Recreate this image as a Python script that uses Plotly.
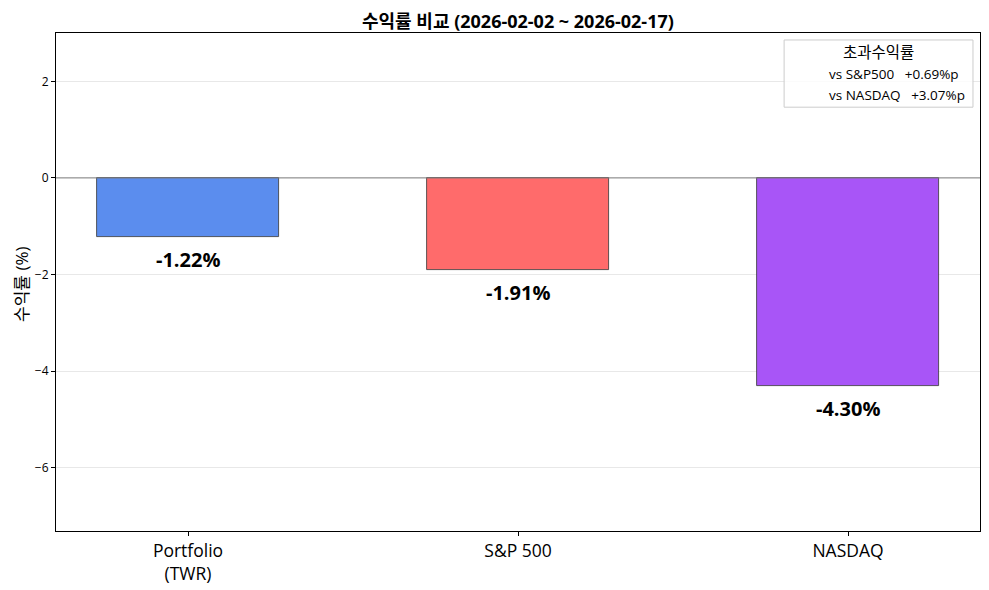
import plotly.graph_objects as go

categories = ["Portfolio<br>(TWR)", "S&P 500", "NASDAQ"]
returns = [-1.22, -1.91, -4.30]
bar_colors = ["#5B8DEE", "#FF6B6B", "#A855F7"]
legend_title = "초과수익률"
legend_items = ["vs S&P500   +0.69%p", "vs NASDAQ   +3.07%p"]
title = "수익률 비교 (2026-02-02 ~ 2026-02-17)"
y_title = "수익률 (%)"
ytick_vals = [-6, -4, -2, 0, 2]

FONT = "Open Sans, Noto Sans CJK KR, sans-serif"
xs = list(range(len(categories)))

fig = go.Figure()
fig.add_trace(go.Bar(
    x=xs, y=returns, width=0.55,
    marker=dict(color=bar_colors, line=dict(color="#333333", width=0.8)),
    showlegend=False, hoverinfo="skip",
))

for x, v in zip(xs, returns):
    fig.add_annotation(x=x, y=v, text=f"<b>{v:.2f}%</b>", showarrow=False,
                       yanchor="top", yshift=-7,
                       font=dict(family=FONT, size=20, color="black"))

fig.add_hline(y=0, line=dict(color="#808080", width=1))

# legend box
fig.add_shape(type="rect", xref="paper", yref="paper",
              x0=0.788, x1=0.9924, y0=0.851, y1=0.986,
              line=dict(color="#cccccc", width=1), fillcolor="rgba(255,255,255,0.8)",
              layer="above")
fig.add_annotation(xref="paper", yref="paper", x=0.8902, y=0.962, text=legend_title,
                   showarrow=False, xanchor="center", yanchor="middle",
                   font=dict(family=FONT, size=15.5, color="black"))
for i, t in enumerate(legend_items):
    fig.add_annotation(xref="paper", yref="paper", x=0.8345, y=0.918 - i * 0.042,
                       text=t.replace("   ", "&nbsp;&nbsp;&nbsp;"), showarrow=False,
                       xanchor="left", yanchor="middle",
                       font=dict(family=FONT, size=13.5, color="black"))

# y-axis title
fig.add_annotation(xref="paper", yref="paper", x=-0.0515, y=0.496, text=y_title,
                   textangle=-90, showarrow=False, xanchor="left", yanchor="middle",
                   font=dict(family=FONT, size=17, color="black"))

# chart title
fig.add_annotation(xref="paper", yref="paper", x=0.5, y=1.0502, text=f"<b>{title}</b>",
                   showarrow=False, xanchor="center", yanchor="top", borderpad=0,
                   font=dict(family=FONT, size=18, color="black"))

fig.update_layout(
    width=981, height=582,
    margin=dict(l=48, r=9, t=25, b=59, autoexpand=False),
    paper_bgcolor="white", plot_bgcolor="white",
    font=dict(family=FONT, color="black"),
    bargap=0,
)
fig.update_xaxes(range=[-0.4, 2.4], tickvals=xs, ticktext=categories, automargin=False,
                 showline=True, linecolor="black", linewidth=1, mirror=True,
                 ticks="outside", ticklen=4, tickcolor="black",
                 tickfont=dict(family=FONT, size=17.5), showgrid=False, zeroline=False)
fig.update_yaxes(range=[-7.31, 3.0], tickvals=ytick_vals, automargin=False,
                 showline=True, linecolor="black", linewidth=1, mirror=True,
                 ticks="outside", ticklen=4, tickcolor="black",
                 tickfont=dict(family=FONT, size=12), showgrid=True,
                 gridcolor="rgba(0,0,0,0.09)", zeroline=False)

fig.write_html("out.html")
